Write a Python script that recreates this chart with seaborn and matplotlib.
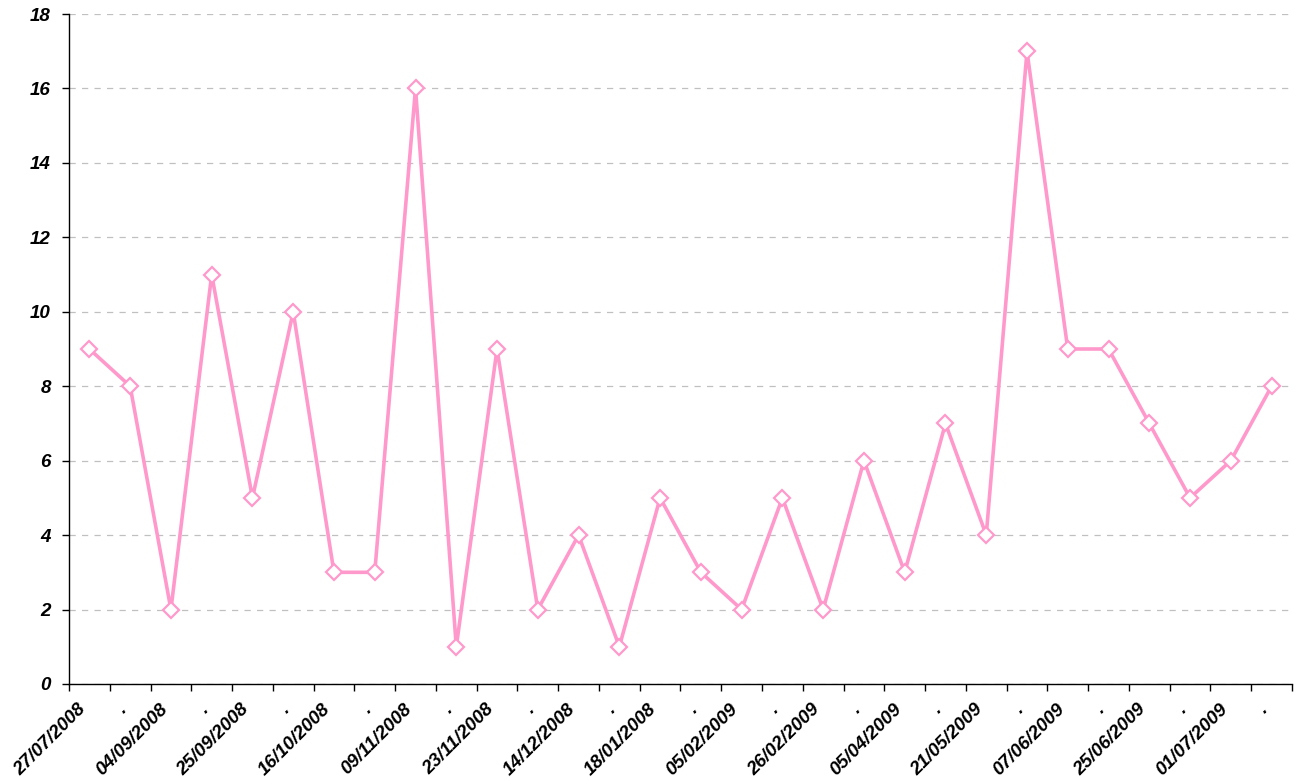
import numpy as np
import pandas as pd
import matplotlib
matplotlib.use("Agg")
import matplotlib.pyplot as plt
import matplotlib.transforms as mtransforms
import seaborn as sns

# ------------------------------------------------------------
# data
# ------------------------------------------------------------
labels = ["27/07/2008", ".", "04/09/2008", ".", "25/09/2008", ".", "16/10/2008", ".",
          "09/11/2008", ".", "23/11/2008", ".", "14/12/2008", ".", "18/01/2008", ".",
          "05/02/2009", ".", "26/02/2009", ".", "05/04/2009", ".", "21/05/2009", ".",
          "07/06/2009", ".", "25/06/2009", ".", "01/07/2009", "."]
values = [9, 8, 2, 11, 5, 10, 3, 3, 16, 1, 9, 2, 4, 1, 5,
          3, 2, 5, 2, 6, 3, 7, 4, 17, 9, 9, 7, 5, 6, 8]

df = pd.DataFrame({"pos": np.arange(len(values)), "label": labels, "value": values})

sns.set_style("white")
plt.rcParams["font.family"] = ["Liberation Sans", "DejaVu Sans"]

fig = plt.figure(figsize=(13.02, 7.84), dpi=100)
ax = fig.add_axes([0.053, 0.1276, 0.9393, 0.8545])

sns.lineplot(data=df, x="pos", y="value", ax=ax, color="#FF99CC", linewidth=2.6,
             marker="D", markersize=8.5, markerfacecolor="white",
             markeredgecolor="#FF99CC", markeredgewidth=1.6)

ax.set_xlim(-0.5, len(values) - 0.5)
ax.set_ylim(0, 18)
ax.set_yticks(np.arange(0, 19, 2))
ax.yaxis.grid(True, linestyle=(0, (5, 5)), color="#C0C0C0", linewidth=0.9)
ax.set_axisbelow(True)

# category labels at centers, tick marks at boundaries
ax.set_xticks(df["pos"])
ax.set_xticklabels(labels, rotation=45, ha="right", va="top", rotation_mode="anchor",
                   fontsize=13.5, fontweight="bold", fontstyle="italic", color="black")
ax.tick_params(axis="x", which="major", bottom=True, length=0, pad=12)
ax.set_xticks(np.arange(-0.5, len(values), 1), minor=True)
ax.tick_params(axis="x", which="minor", bottom=True, length=5, direction="out",
               width=1, color="black")
ax.tick_params(axis="y", left=True, length=5, direction="out", width=1,
               color="black", labelsize=13.5, labelcolor="black", pad=8)
for t in ax.get_yticklabels():
    t.set_fontweight("bold")
    t.set_fontstyle("italic")

# nudge the rotated labels a bit to the left
offset = mtransforms.ScaledTranslation(-12 / 100, 0, fig.dpi_scale_trans)
for t in ax.get_xticklabels():
    t.set_transform(t.get_transform() + offset)

for s in ["top", "right"]:
    ax.spines[s].set_visible(False)
for s in ["left", "bottom"]:
    ax.spines[s].set_color("black")
    ax.spines[s].set_linewidth(1)

ax.set_xlabel("")
ax.set_ylabel("")

plt.savefig("out.png", dpi=100)
plt.close()
